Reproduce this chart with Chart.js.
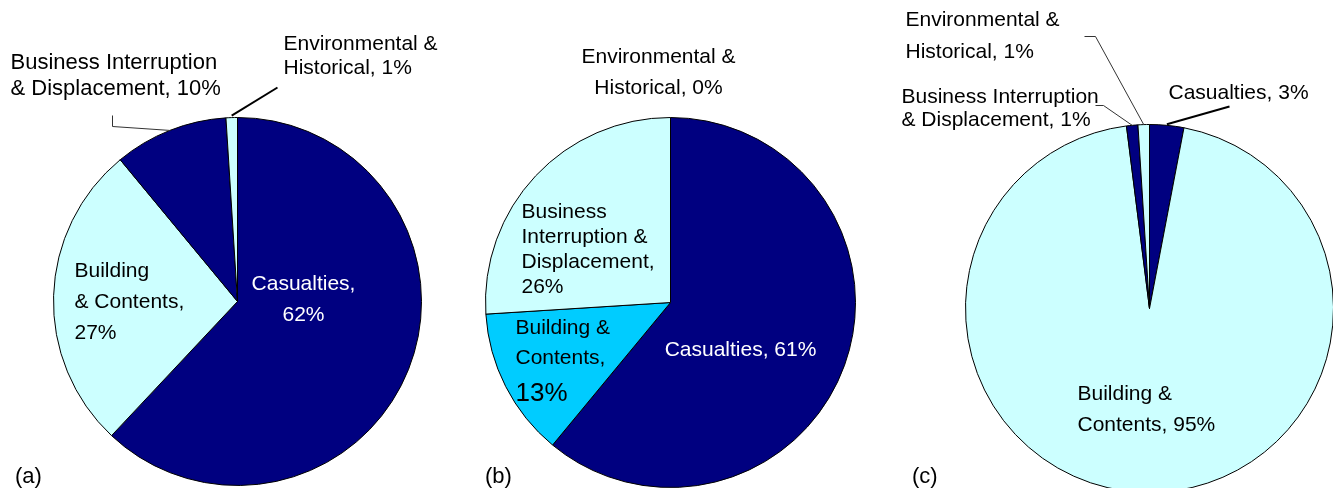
<!DOCTYPE html>
<html><head><meta charset="utf-8">
<script src="https://cdn.jsdelivr.net/npm/chart.js@4/dist/chart.umd.min.js"></script>
<style>
html,body{margin:0;padding:0;background:#fff;overflow:hidden;width:1333px;height:488px}
.panel{position:absolute;top:0;height:488px;overflow:hidden}
canvas{display:block}
</style></head><body>
<div class="panel" style="left:0;width:450px"><canvas id="ca" width="450" height="540"></canvas></div>
<div class="panel" style="left:450px;width:440px"><canvas id="cb" width="440" height="540"></canvas></div>
<div class="panel" style="left:890px;width:443px"><canvas id="cc" width="470" height="540"></canvas></div>
<script>
// ---- data ----
const categories = ["Casualties", "Building & Contents", "Business Interruption & Displacement", "Environmental & Historical"];
const panelTitles = ["(a)", "(b)", "(c)"];
const valuesA = [62, 27, 10, 1];
const valuesB = [61, 13, 26, 0];
const valuesC = [3, 95, 1, 1];

// ---- styles ----
const NAVY = '#000080', LIGHT = '#CCFFFF', CYAN = '#00CCFF';
const FONT = '"Liberation Sans", Arial, sans-serif';
const colorsA = [NAVY, LIGHT, NAVY, LIGHT];
const colorsB = [NAVY, CYAN, LIGHT, LIGHT];
const colorsC = [NAVY, LIGHT, NAVY, LIGHT];

const labelPlugin = {
  id: 'pieLabels',
  afterDatasetsDraw(chart, args, opts) {
    const ctx = chart.ctx;
    const meta = chart.getDatasetMeta(0);
    const vals = chart.data.datasets[0].data;
    const cx = meta.data[0].x, cy = meta.data[0].y;
    ctx.save();
    opts.items.forEach((it, i) => {
      const arc = meta.data[i];
      if (it.leader) {
        const mid = (arc.startAngle + arc.endAngle) / 2;
        const r = arc.outerRadius + (it.leader.gap || 0);
        ctx.beginPath();
        ctx.moveTo(cx + r * Math.cos(mid), cy + r * Math.sin(mid));
        it.leader.pts.forEach(p => ctx.lineTo(cx + p[0], cy + p[1]));
        ctx.lineWidth = it.leader.width;
        ctx.strokeStyle = it.leader.color;
        ctx.stroke();
      }
      const words = `${chart.data.labels[i]}, ${vals[i]}%`.split(' ');
      let k = 0;
      const lines = it.breaks.map(n => { const l = words.slice(k, k + n).join(' '); k += n; return l; });
      ctx.fillStyle = it.color || '#000';
      ctx.textAlign = it.align || 'left';
      ctx.textBaseline = 'middle';
      let y = cy + it.dy;
      lines.forEach((l, j) => {
        const size = (j === lines.length - 1 && it.lastSize) ? it.lastSize : (it.size || 21);
        ctx.font = `${size}px ${FONT}`;
        if (j > 0) y += (it.gaps ? it.gaps[j - 1] : it.lh);
        ctx.fillText(l, cx + it.dx, y);
      });
    });
    ctx.fillStyle = '#000';
    ctx.textAlign = 'left';
    ctx.textBaseline = 'middle';
    ctx.font = `22px ${FONT}`;
    ctx.fillText(opts.title, opts.titleX, opts.titleY);
    ctx.restore();
  }
};

function makePie(id, values, colors, geo, items, title, titleX) {
  const canvas = document.getElementById(id);
  const W = canvas.width, H = canvas.height, d = 2 * geo.r + 1;
  new Chart(canvas, {
    type: 'pie',
    data: {
      labels: categories,
      datasets: [{ data: values, backgroundColor: colors, borderColor: '#000', borderWidth: 1 }]
    },
    options: {
      responsive: false,
      animation: false,
      devicePixelRatio: 1,
      layout: { padding: { left: geo.cx - geo.r, top: geo.cy - geo.r, right: W - (geo.cx - geo.r) - d, bottom: H - (geo.cy - geo.r) - d } },
      plugins: {
        legend: { display: false },
        tooltip: { enabled: false },
        pieLabels: { items: items, title: title, titleX: titleX, titleY: 477 }
      }
    },
    plugins: [labelPlugin]
  });
}

makePie('ca', valuesA, colorsA, { cx: 237, cy: 301, r: 184 }, [
  { breaks: [1, 1], dx: 66, dy: -17, lh: 31, align: 'center', color: '#fff' },
  { breaks: [1, 2, 1], dx: -163, dy: -30, lh: 31 },
  { breaks: [2, 3], dx: -227, dy: -239, lh: 26, size: 22,
    leader: { gap: 0, pts: [[-125, -175], [-125, -186]], width: 1, color: '#333' } },
  { breaks: [2, 2], dx: 46, dy: -257, lh: 24,
    leader: { gap: 2, pts: [[40, -214]], width: 2, color: '#000' } }
], panelTitles[0], 15);

makePie('cb', valuesB, colorsB, { cx: 220, cy: 302, r: 185 }, [
  { breaks: [2], dx: 70, dy: 48, lh: 30, align: 'center', color: '#fff' },
  { breaks: [2, 1, 1], dx: -155, dy: 26, gaps: [30, 35], lastSize: 26 },
  { breaks: [1, 2, 1, 1], dx: -149, dy: -90, lh: 25 },
  { breaks: [2, 2], dx: -12, dy: -245, lh: 31, align: 'center' }
], panelTitles[1], 35);

makePie('cc', valuesC, colorsC, { cx: 259, cy: 308, r: 184 }, [
  { breaks: [2], dx: 19, dy: -215, lh: 30,
    leader: { gap: 1, pts: [[80, -202]], width: 2, color: '#000' } },
  { breaks: [2, 2], dx: -72, dy: 86, lh: 31 },
  { breaks: [2, 3], dx: -248, dy: -211, lh: 23,
    leader: { gap: 0, pts: [[-46, -203], [-54, -203]], width: 1, color: '#333' } },
  { breaks: [2, 2], dx: -244, dy: -288, lh: 32,
    leader: { gap: 0, pts: [[-54, -272], [-65, -272]], width: 1, color: '#333' } }
], panelTitles[2], 22);
</script>
</body></html>
